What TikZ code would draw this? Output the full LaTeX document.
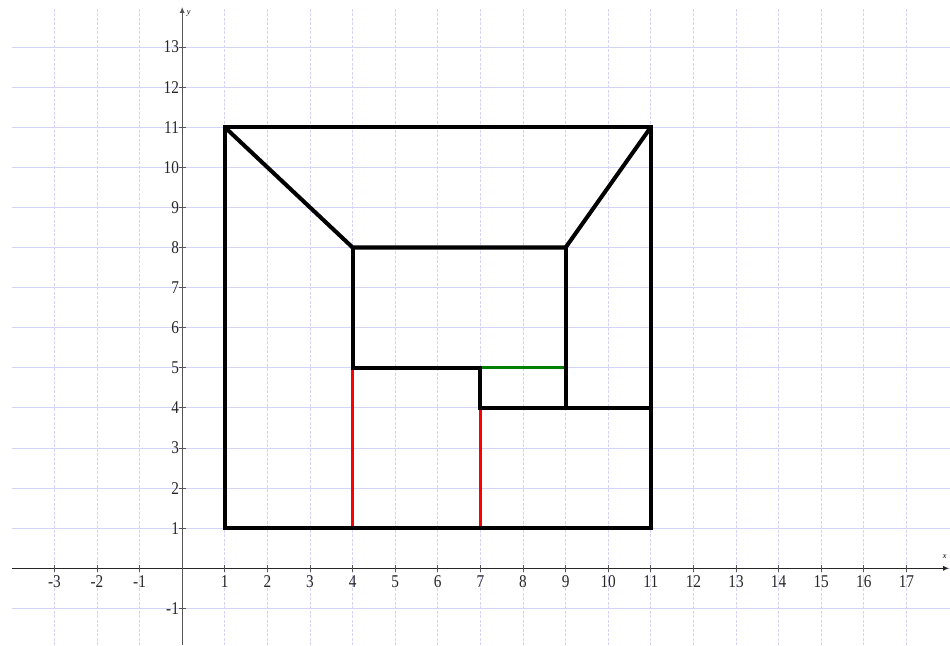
\documentclass[tikz,border=0pt]{standalone}
\usepackage{fontspec}
\setmainfont{Liberation Serif}
\newfontfamily\labfont[FakeStretch=0.85]{Liberation Serif}
\usetikzlibrary{arrows.meta}
\definecolor{gridc}{HTML}{D4D4F6}
\definecolor{axisc}{HTML}{555555}
\definecolor{greenc}{HTML}{008000}
\tikzset{
  vgrid/.style={draw=gridc, line width=0.6pt, dash pattern=on 2pt off 1pt},
  hgrid/.style={draw=gridc, line width=0.6pt},
  axisline/.style={draw=axisc, line width=0.8pt, -{Latex[length=4pt,width=3.5pt]}},
  tickmark/.style={draw=axisc, line width=0.6pt},
  ticklab/.style={font=\labfont\fontsize{12}{12}\selectfont, text=black!85, inner sep=0pt},
  axlab/.style={font=\fontsize{5.5}{5.5}\selectfont\itshape, inner sep=0pt},
  edge/.style={draw=black, line width=2.7pt, line join=miter},
  rededge/.style={draw=red, line width=2pt},
  greenedge/.style={draw=greenc, line width=2.2pt}
}
\begin{document}
\begin{tikzpicture}[x=1cm, y=0.9413cm]
\useasboundingbox (-4.277,-1.913) rectangle (18.023,14.172);
% grid
\foreach \i in {-3,...,17} \draw[vgrid] (\i,-1.913) -- (\i,13.99);
\foreach \j in {-1,...,13} \draw[hgrid] (-3.99,\j) -- (18.023,\j);
% axes
\coordinate (xs) at (-3.99,0);
\coordinate (xe) at (18.0,0);
\coordinate (ys) at (0,-1.913);
\coordinate (ye) at (0,14.0);
\draw[axisline, draw=black!85] (xs) -- (xe);
\draw[axisline] (ys) -- (ye);
\node[axlab] (xl) at (17.9,0.28) {x};
\node[axlab] (yl) at (0.15,13.84) {y};
% ticks and labels
\foreach \i in {-3,...,-1,1,2,...,17} {
  \draw[tickmark] (\i,-0.08) -- (\i,0.08);
  \node[ticklab, anchor=north] (tx\i) at (\i,-0.17) {\i};
}
\foreach \j in {-1,1,2,...,13} {
  \draw[tickmark] (-0.08,\j) -- (0.08,\j);
  \node[ticklab, anchor=east] (ty\j) at (-0.07,\j) {\j};
}
% figure vertices
\coordinate (A) at (1,1);
\coordinate (B) at (11,1);
\coordinate (C) at (11,11);
\coordinate (D) at (1,11);
\coordinate (E) at (4,8);
\coordinate (F) at (9,8);
\coordinate (G) at (4,5);
\coordinate (H) at (7,5);
\coordinate (I) at (7,4);
\coordinate (J) at (11,4);
\coordinate (K) at (9,4);
\coordinate (L) at (9,5);
\coordinate (M) at (4,1);
\coordinate (N) at (7,1);
% coloured segments
\draw[rededge] (M) -- (G);
\draw[rededge] (N) -- (I);
\draw[greenedge] (H) -- (L);
% black edges
\draw[edge] (A) -- (B) -- (C) -- (D) -- cycle;
\draw[edge] (D) -- (E) -- (F) -- (C);
\draw[edge] (E) -- (G) -- (H) -- (I) -- (J);
\draw[edge] (F) -- (K);
\end{tikzpicture}
\end{document}
